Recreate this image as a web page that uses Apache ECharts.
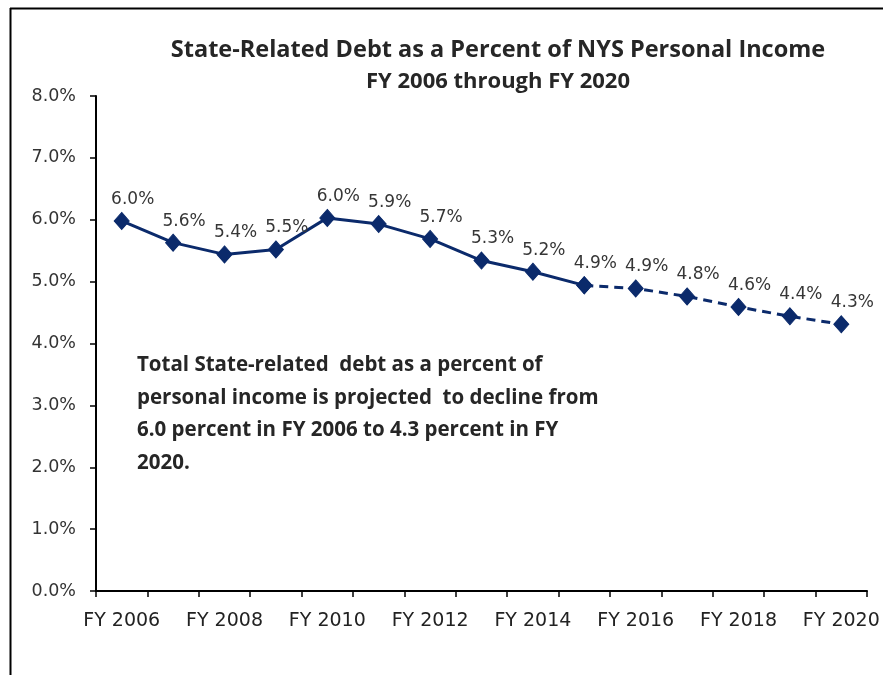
<!DOCTYPE html>
<html>
<head>
<meta charset="utf-8">
<style>
html,body{margin:0;padding:0;background:#fff;}
#chart{width:883px;height:675px;}
</style>
<script src="https://cdn.jsdelivr.net/npm/echarts@6/dist/echarts.min.js"></script>
</head>
<body>
<div id="chart"></div>
<script>
const categories = ['FY 2006','FY 2007','FY 2008','FY 2009','FY 2010','FY 2011','FY 2012','FY 2013','FY 2014','FY 2015','FY 2016','FY 2017','FY 2018','FY 2019','FY 2020'];
const debtPct = [5.98, 5.63, 5.44, 5.52, 6.03, 5.93, 5.69, 5.34, 5.16, 4.94, 4.89, 4.76, 4.59, 4.44, 4.31];
const lastActualIndex = 9; // FY 2015: solid line up to here, dashed (projected) after
const yTicks = [0, 1, 2, 3, 4, 5, 6, 7, 8];
const titleText = 'State-Related Debt as a Percent of NYS Personal Income';
const subtitleText = 'FY 2006 through FY 2020';
const noteLines = [
  'Total State-related  debt as a percent of',
  'personal income is projected  to decline from',
  '6.0 percent in FY 2006 to 4.3 percent in FY',
  '2020.'
];

const actual = debtPct.map((v, i) => i <= lastActualIndex ? v : null);
const projected = debtPct.map((v, i) => i >= lastActualIndex ? v : null);

const navy = '#0B2A6B';
const boldFont = '"Open Sans", sans-serif';
const labelFont = '"DejaVu Sans", sans-serif';

const labelCfg = (skipIdx) => ({
  show: true,
  position: 'top',
  distance: 4,
  offset: [11, 0],
  fontSize: 17,
  fontFamily: labelFont,
  color: '#363636',
  formatter: p => (p.dataIndex === skipIdx || p.value == null) ? '' : p.value.toFixed(1) + '%'
});

const chart = echarts.init(document.getElementById('chart'), null, {renderer: 'canvas'});
chart.setOption({
  animation: false,
  backgroundColor: '#ffffff',
  title: [
    {text: titleText, left: 498, top: 38, textAlign: 'center', padding: 0,
     textStyle: {fontFamily: boldFont, fontWeight: 'bold', fontSize: 23.5, color: '#262626'}},
    {text: subtitleText, left: 498, top: 71, textAlign: 'center', padding: 0,
     textStyle: {fontFamily: boldFont, fontWeight: 'bold', fontSize: 22, color: '#262626'}}
  ],
  grid: {left: 96, right: 16, top: 96, bottom: 84, containLabel: false},
  xAxis: {
    type: 'category',
    data: categories,
    boundaryGap: true,
    axisLine: {lineStyle: {color: '#000', width: 2}},
    axisTick: {show: true, interval: 0, length: 6, lineStyle: {color: '#000', width: 1.5}},
    axisLabel: {interval: 1, margin: 21, fontSize: 19, fontFamily: labelFont, color: '#222'},
    splitLine: {show: false}
  },
  yAxis: {
    type: 'value',
    min: yTicks[0],
    max: yTicks[yTicks.length - 1],
    interval: 1,
    axisLine: {show: true, lineStyle: {color: '#000', width: 2}},
    axisTick: {show: true, length: 6, lineStyle: {color: '#000', width: 1.5}},
    axisLabel: {margin: 20, fontSize: 17.5, fontFamily: labelFont, color: '#333',
      formatter: v => v.toFixed(1) + '%'},
    splitLine: {show: false}
  },
  series: [
    {
      name: 'Actual', type: 'line', data: actual,
      symbol: 'diamond', symbolSize: [15, 17],
      lineStyle: {color: navy, width: 3},
      itemStyle: {color: navy, borderColor: navy},
      label: labelCfg(-1),
      z: 3
    },
    {
      name: 'Projected', type: 'line', data: projected,
      symbol: 'diamond', symbolSize: [15, 17],
      lineStyle: {color: navy, width: 3, type: [9, 6]},
      itemStyle: {color: navy, borderColor: navy},
      label: labelCfg(lastActualIndex),
      z: 2
    }
  ],
  graphic: [
    {type: 'line', shape: {x1: 10, y1: 8.5, x2: 883, y2: 8.5}, style: {stroke: '#000', lineWidth: 2}},
    {type: 'line', shape: {x1: 10.5, y1: 8, x2: 10.5, y2: 675}, style: {stroke: '#000', lineWidth: 2}},
    {type: 'text', left: 137, top: 349,
     style: {text: noteLines.join('\n'), fontFamily: boldFont, fontWeight: 'bold', fontSize: 20.5,
             lineHeight: 32.5, fill: '#262626'}}
  ]
});
</script>
</body>
</html>
